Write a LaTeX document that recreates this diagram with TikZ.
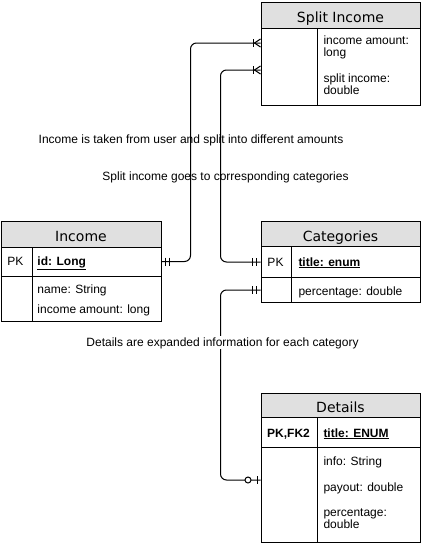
\documentclass[tikz,border=0pt]{standalone}
\usepackage{fontspec}
\setmainfont{Liberation Sans}
\newfontfamily\headfont{DejaVu Sans}
\usepackage{xcolor}
\usetikzlibrary{calc,positioning}
\definecolor{headgray}{HTML}{E0E0E0}

\begin{document}
\begin{tikzpicture}[x=1pt,y=-1pt,line width=1pt,
	cell/.style={draw,rectangle,anchor=north west,inner sep=0pt},
	head/.style={cell,fill=headgray,text height=14pt,text depth=0pt,font=\headfont\fontsize{14}{16}\selectfont},
	field/.style={anchor=base west,inner sep=0pt,font=\fontsize{12}{14}\selectfont},
	key/.style={anchor=base,inner sep=0pt,font=\fontsize{12}{14}\selectfont},
	note/.style={anchor=base,inner sep=1pt,font=\fontsize{12}{14}\selectfont}]
			\useasboundingbox (0,0) rectangle (421,544);
			
			%%income table%%
			\node[head,minimum width=160pt,minimum height=26pt] (income) at (0.5,220.5) {Income};
			\node[cell,minimum width=31pt,minimum height=29pt] (incpkkey) at (0.5,246.5) {};
			\node[cell,minimum width=129pt,minimum height=29pt] (incpk) at (31.5,246.5) {};
			\node[cell,minimum width=31pt,minimum height=45pt] (incbodykey) at (0.5,275.5) {};
			\node[cell,minimum width=129pt,minimum height=45pt] (incbody) at (31.5,275.5) {};
				\node[key] (incpklabel) at (15.5,265) {PK};
				\node[field] (incid) at (37,265) {\underline{\textbf{id: Long}}};
				\node[field] (incname) at (37,293) {name: String};
				\node[field] (incamount) at (37,313) {income amount: long};
			
			%%split income table%%
			\node[head,minimum width=159pt,minimum height=26pt] (split) at (260.5,1.5) {Split Income};
			\node[cell,minimum width=56pt,minimum height=77pt] (splitbodykey) at (260.5,27.5) {};
			\node[cell,minimum width=103pt,minimum height=77pt] (splitbody) at (316.5,27.5) {};
				\node[field] (splitamount) at (323,44.5) {income amount:};
				\node[field] (splitamounttype) at (323,56.5) {long};
				\node[field] (splitsplit) at (323,82) {split income:};
				\node[field] (splitsplittype) at (323,94) {double};
			
			%%categories table%%
			\node[head,minimum width=159pt,minimum height=25pt] (cat) at (260.5,221) {Categories};
			\node[cell,minimum width=30pt,minimum height=31pt] (catpkkey) at (260.5,246) {};
			\node[cell,minimum width=129pt,minimum height=31pt] (catpk) at (290.5,246) {};
			\node[cell,minimum width=30pt,minimum height=25pt] (catbodykey) at (260.5,277) {};
			\node[cell,minimum width=129pt,minimum height=25pt] (catbody) at (290.5,277) {};
				\node[key] (catpklabel) at (275.5,266) {PK};
				\node[field] (cattitle) at (298,266) {\underline{\textbf{title: enum}}};
				\node[field] (catpercent) at (298,295) {percentage: double};
			
			%%details table%%
			\node[head,minimum width=159pt,minimum height=24pt] (det) at (260.5,393) {Details};
			\node[cell,minimum width=56pt,minimum height=30pt] (detpkkey) at (260.5,417) {};
			\node[cell,minimum width=103pt,minimum height=30pt] (detpk) at (316.5,417) {};
			\node[cell,minimum width=56pt,minimum height=95pt] (detbodykey) at (260.5,447) {};
			\node[cell,minimum width=103pt,minimum height=95pt] (detbody) at (316.5,447) {};
				\node[key] (detpklabel) at (288.5,437) {\textbf{PK,FK2}};
				\node[field] (dettitle) at (323,437) {\underline{\textbf{title: ENUM}}};
				\node[field] (detinfo) at (323,465) {info: String};
				\node[field] (detpayout) at (323,491) {payout: double};
				\node[field] (detpercent) at (323,516) {percentage:};
				\node[field] (detpercenttype) at (323,528) {double};
			
			%%connectors%%
			\coordinate (splitA) at (260.5,43);
			\coordinate (splitB) at (260.5,70);
			\coordinate (detA) at (260.5,480);
			\draw[rounded corners=6pt] (incpk.east) -| (190.5,150) |- (splitA);
			\draw[rounded corners=6pt] (catpkkey.west) -| (220.5,150) |- (splitB);
			\draw[rounded corners=6pt] (catbodykey.west) -| (220.5,400) |- (detA);
			
			%%ends%%
			\draw ($(incpk.east)+(4,-4)$) -- ++(0,8);
			\draw ($(incpk.east)+(7.5,-4)$) -- ++(0,8);
			\draw ($(catpkkey.west)+(-8,-4)$) -- ++(0,8);
			\draw ($(catpkkey.west)+(-4.5,-4)$) -- ++(0,8);
			\draw ($(catbodykey.west)+(-8,-4)$) -- ++(0,8);
			\draw ($(catbodykey.west)+(-4.5,-4)$) -- ++(0,8);
			\draw ($(splitA)+(-7,-4)$) -- ++(0,8);
			\draw ($(splitA)+(0,-4)$) -- ($(splitA)+(-6,0)$) -- ($(splitA)+(0,4)$);
			\draw ($(splitB)+(-7,-4)$) -- ++(0,8);
			\draw ($(splitB)+(0,-4)$) -- ($(splitB)+(-6,0)$) -- ($(splitB)+(0,4)$);
			\draw[fill=white] ($(detA)+(-12.5,0)$) circle (3);
			\draw ($(detA)+(-3.5,-4)$) -- ++(0,8);
			
			%%notes%%
			\node[note] (note1) at (191,143) {Income is taken from user and split into different amounts};
			\node[note] (note2) at (225.5,180) {Split income goes to corresponding categories};
			\node[note,fill=white] (note3) at (222.5,346) {Details are expanded information for each category};
\end{tikzpicture}
\end{document}
